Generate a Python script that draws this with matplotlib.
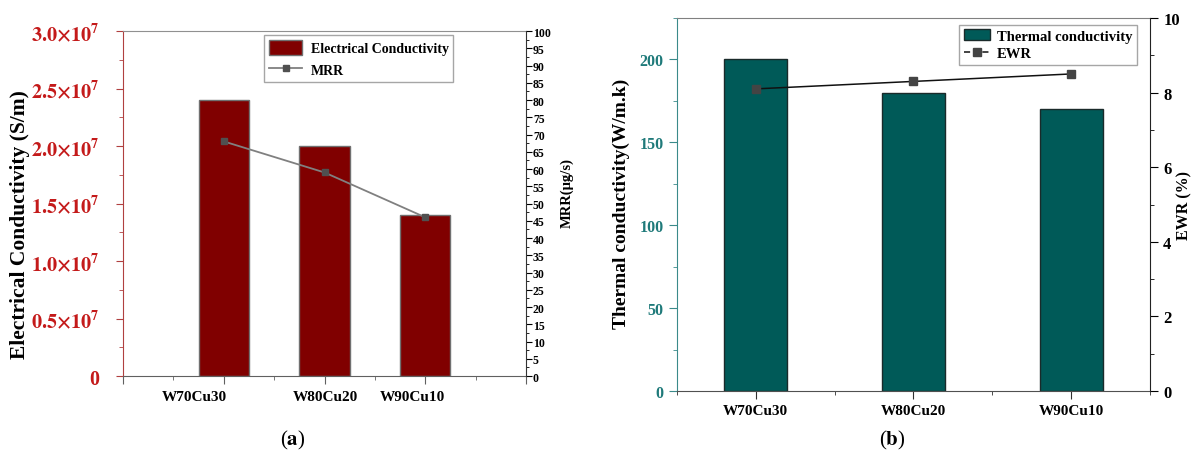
import matplotlib.pyplot as plt
from matplotlib.ticker import MultipleLocator, FixedLocator

plt.rcParams['font.family'] = ['Liberation Serif', 'DejaVu Serif']
plt.rcParams['font.weight'] = 'bold'
plt.rcParams['axes.labelweight'] = 'bold'
plt.rcParams['mathtext.fontset'] = 'stix'

# data
alloys = ['W70Cu30', 'W80Cu20', 'W90Cu10']
elec_cond = [2.4e7, 2.0e7, 1.4e7]      # S/m
mrr = [68, 59, 46]                     # ug/s
therm_cond = [200, 180, 170]           # W/m.k
ewr = [8.1, 8.3, 8.5]                  # %

elec_ticks = [0, 0.5e7, 1.0e7, 1.5e7, 2.0e7, 2.5e7, 3.0e7]
elec_labels = ['0', r'$\mathbf{0.5{\times}10^{7}}$', r'$\mathbf{1.0{\times}10^{7}}$',
               r'$\mathbf{1.5{\times}10^{7}}$', r'$\mathbf{2.0{\times}10^{7}}$',
               r'$\mathbf{2.5{\times}10^{7}}$', r'$\mathbf{3.0{\times}10^{7}}$']

red = '#c41a1a'
teal_txt = '#1f7a7a'

fig = plt.figure(figsize=(11.99, 4.6), dpi=100)

# ---------- (a) electrical conductivity + MRR ----------
ax1 = fig.add_axes([0.1026, 0.1804, 0.3361, 0.75])
x1 = [1, 2, 3]
ax1.bar(x1, elec_cond, width=0.5, color='#800000', edgecolor='#707070', linewidth=1,
        label='Electrical Conductivity', zorder=2)
ax1.set_xlim(0, 4)
ax1.set_ylim(0, 3.0e7)
ax1.xaxis.set_major_locator(FixedLocator([0, 1, 2, 3, 4]))
ax1.set_xticklabels([])
ax1.xaxis.set_minor_locator(MultipleLocator(0.5))
# category names, nudged a little left of their ticks
name_dx = [-21, 1, -9]
for xi, name, dx in zip(x1, alloys, name_dx):
    ax1.annotate(name, (xi, 0), xycoords=('data', 'axes fraction'),
                 xytext=(dx, -15), textcoords='offset points',
                 ha='center', va='center', fontsize=11)
ax1.set_yticks(elec_ticks)
ax1.set_yticklabels(elec_labels, fontsize=14.5, color=red)
ax1.yaxis.set_minor_locator(MultipleLocator(0.25e7))
ax1.tick_params(axis='y', which='both', colors='#b04040', labelcolor=red, direction='out')
ax1.tick_params(axis='y', which='major', length=5, pad=12)
ax1.tick_params(axis='y', which='minor', length=3)
ax1.tick_params(axis='x', which='major', length=6, color='#606060')
ax1.tick_params(axis='x', which='minor', length=3, color='#606060')
ax1.spines['left'].set_color('#b04040')
ax1.spines['bottom'].set_color('#606060')
ax1.spines['top'].set_color('#909090')
ax1.spines['right'].set_visible(False)
ax1.set_ylabel('Electrical Conductivity (S/m)', fontsize=15.5)
ax1.yaxis.set_label_coords(-0.232, 0.443)

ax1b = ax1.twinx()
ax1b.plot(x1, mrr, color='#808080', lw=1.3, marker='s', ms=5, mfc='#505050', mec='#505050',
          label='MRR', zorder=3)
ax1b.set_ylim(0, 100)
ax1b.yaxis.set_major_locator(MultipleLocator(5))
ax1b.yaxis.set_minor_locator(MultipleLocator(2.5))
ax1b.tick_params(axis='y', which='major', length=4, labelsize=8.5, pad=1)
ax1b.tick_params(axis='y', which='minor', length=2)
ax1b.spines['right'].set_color('#333333')
for s in ['left', 'top', 'bottom']:
    ax1b.spines[s].set_visible(False)
ax1b.set_ylabel('MRR(μg/s)', fontsize=10.5)
ax1b.yaxis.set_label_coords(1.084, 0.533)

h1, l1 = ax1.get_legend_handles_labels()
h2, l2 = ax1b.get_legend_handles_labels()
ax1b.legend(h1 + h2, l1 + l2, loc='upper left', bbox_to_anchor=(0.35, 0.988),
            borderaxespad=0, fontsize=10, frameon=True, fancybox=False, edgecolor='#909090',
            handlelength=2.4, handleheight=1.3, borderpad=0.35, labelspacing=0.45,
            handletextpad=0.6)

# ---------- (b) thermal conductivity + EWR ----------
ax2 = fig.add_axes([0.5646, 0.1478, 0.3945, 0.8109])
x2 = [1, 2, 3]
ax2.bar(x2, therm_cond, width=0.4, color='#005a58', edgecolor='#1a2a2a', linewidth=1,
        label='Thermal conductivity', zorder=2)
ax2.set_xlim(0.5, 3.5)
ax2.set_ylim(0, 225)
ax2.set_xticks(x2)
ax2.set_xticklabels(alloys, fontsize=11)
ax2.xaxis.set_minor_locator(MultipleLocator(0.5))
ax2.yaxis.set_major_locator(MultipleLocator(50))
ax2.yaxis.set_minor_locator(MultipleLocator(25))
ax2.tick_params(axis='y', which='both', colors='#3a8a8a', labelcolor=teal_txt,
                labelsize=11.5, direction='out')
ax2.tick_params(axis='y', which='major', length=6)
ax2.tick_params(axis='y', which='minor', length=3)
ax2.tick_params(axis='x', which='major', length=6, color='#303030')
ax2.tick_params(axis='x', which='minor', length=3, color='#303030')
ax2.spines['left'].set_color('#3a8a8a')
ax2.spines['bottom'].set_color('#505050')
ax2.spines['top'].set_color('#808080')
ax2.spines['right'].set_visible(False)
ax2.set_ylabel('Thermal conductivity(W/m.k)', fontsize=14)
ax2.yaxis.set_label_coords(-0.099, 0.504)

ax2b = ax2.twinx()
ax2b.plot(x2, ewr, color='#111111', lw=1.1, marker='s', ms=6, mfc='#444444', mec='#444444',
          label='EWR', zorder=3)
ax2b.set_ylim(0, 10)
ax2b.yaxis.set_major_locator(MultipleLocator(2))
ax2b.yaxis.set_minor_locator(MultipleLocator(1))
ax2b.tick_params(axis='y', which='major', length=6, labelsize=12)
ax2b.tick_params(axis='y', which='minor', length=3)
ax2b.spines['right'].set_color('#222222')
for s in ['left', 'top', 'bottom']:
    ax2b.spines[s].set_visible(False)
ax2b.set_ylabel('EWR (%)', fontsize=11.5)
ax2b.yaxis.set_label_coords(1.055, 0.5)

h1, l1 = ax2.get_legend_handles_labels()
h2, l2 = ax2b.get_legend_handles_labels()
leg = ax2b.legend(h1 + h2, l1 + l2, loc='upper right', bbox_to_anchor=(0.9725, 0.981),
                  borderaxespad=0, fontsize=10.5, frameon=True, fancybox=False,
                  edgecolor='#909090', handlelength=1.8, borderpad=0.3, labelspacing=0.3,
                  handletextpad=0.5)
leg.get_lines()[0].set_linestyle((0, (4, 2)))

# panel captions
fig.text(293 / 1199, 1 - 440 / 460, r'($\mathbf{a}$)', ha='center', va='center',
         fontsize=15, fontweight='normal')
fig.text(892 / 1199, 1 - 440 / 460, r'($\mathbf{b}$)', ha='center', va='center',
         fontsize=15, fontweight='normal')

fig.savefig('out.png', dpi=100)
